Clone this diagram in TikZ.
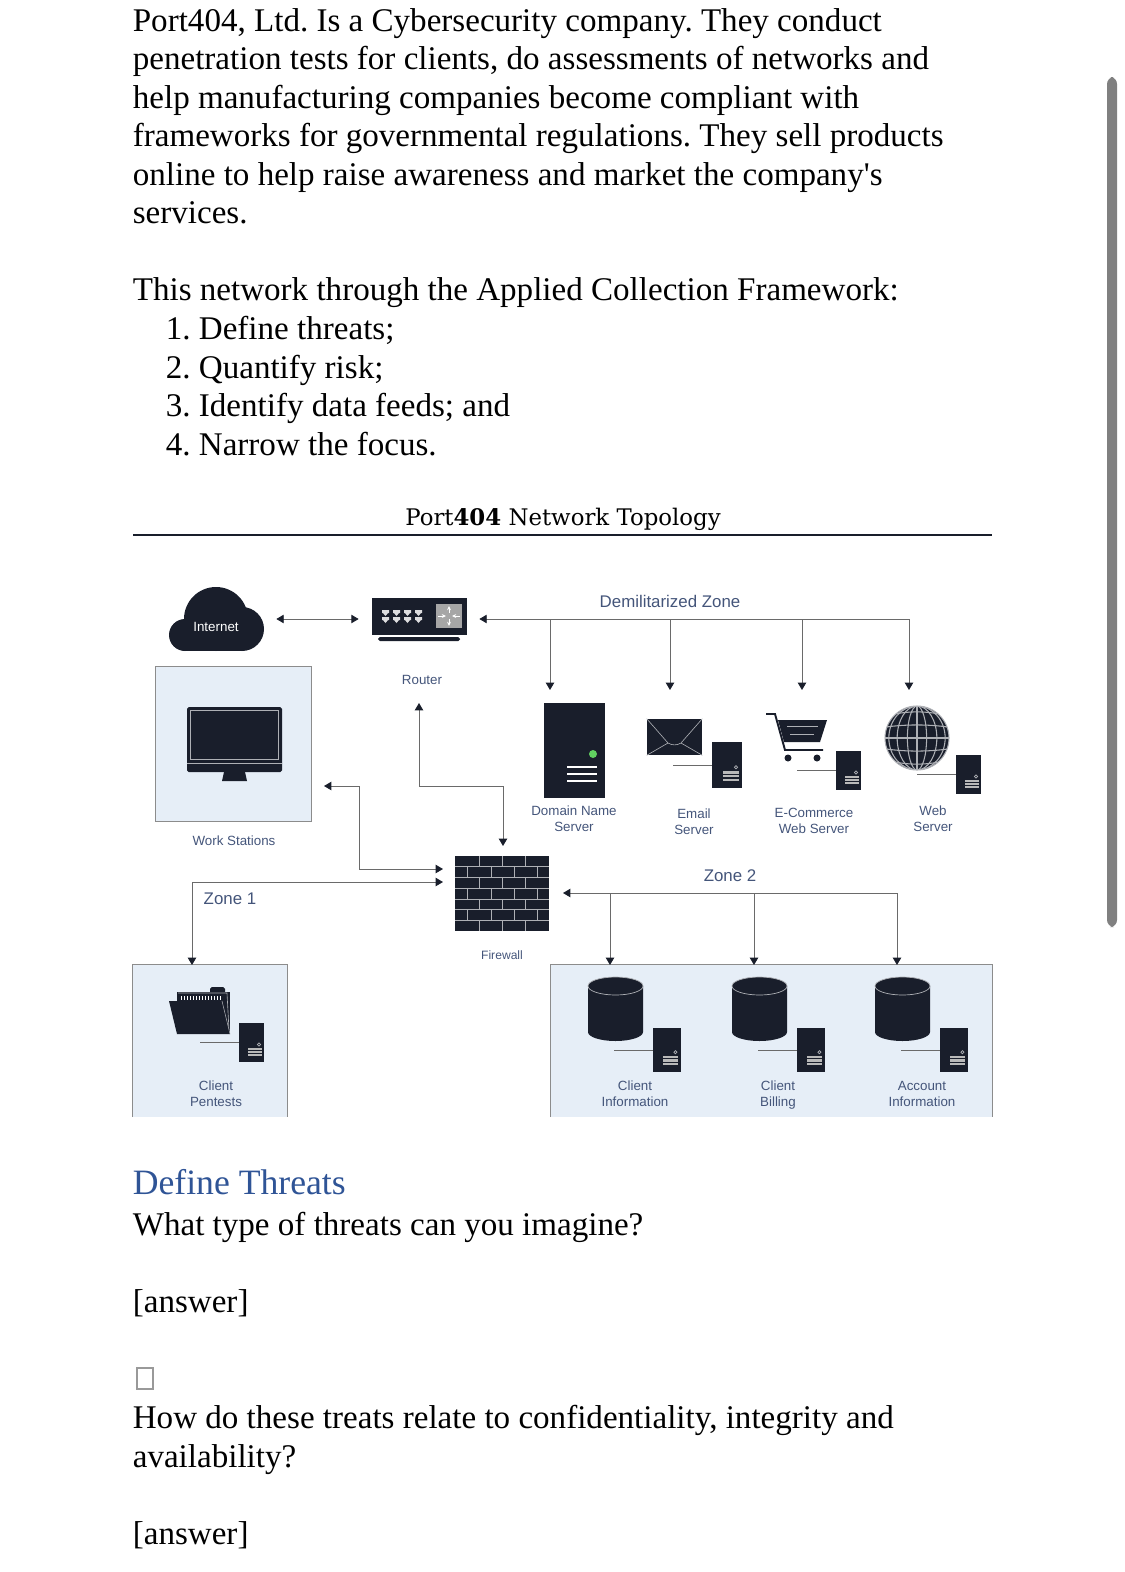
\documentclass[tikz,border=0pt]{standalone}
\usepackage{fontspec}
\usepackage{xcolor}
\usepackage{tikz}
\usetikzlibrary{arrows.meta, positioning, calc}
\setmainfont{Liberation Serif}
\setsansfont{Liberation Sans}
\newfontfamily\slabfont{DejaVu Serif}
\definecolor{ink}{HTML}{191E2B}
\definecolor{panel}{HTML}{E6EEF7}
\definecolor{labelblue}{HTML}{44557A}
\definecolor{wire}{HTML}{6A6A6A}
\definecolor{headblue}{HTML}{2F5496}
\newcommand{\pxu}{0.02cm}
\newcommand{\bodysize}{\fontsize{18.82}{21.9}\selectfont\frenchspacing}
% small tower with a stem: name, x, y, width, height, stem length
\newcommand{\miniserver}[6]{
    \node[icon, minimum width=#4*\pxu, minimum height=#5*\pxu] (#1) at (#2,#3) {};
    \draw[stem] (#1.west) -- ++(-#6,0);
    \begin{scope}[shift={(#1.center)}]
        \draw[bright, line width=0.4pt] ({0.3*#4},{0.05*#5}) circle (1.6);
        \foreach \r in {0.16,0.24,0.32}
            \draw[draw=gray!55, line width=1.3pt] ({-0.14*#4},{\r*#5}) -- ({0.4*#4},{\r*#5});
    \end{scope}
}
% cylinder with its server
\newcommand{\dbstack}[2]{
    \fill[ink] (#2-27.5,986) -- (#2-27.5,1032) arc[start angle=180, end angle=0,
        x radius=27.5, y radius=9] -- (#2+27.5,986) -- cycle;
    \draw[bright, fill=ink, line width=0.4pt] (#2,986) ellipse (27.5 and 9);
    \node[minimum width=55*\pxu, minimum height=64*\pxu, inner sep=0pt] (#1) at (#2,1009) {};
    \miniserver{#1srv}{#2+51.5}{1050}{28}{44}{39}
}

\begin{document}
\begin{tikzpicture}[
    x=\pxu, y=-\pxu,
    every node/.style={inner sep=0pt},
    para/.style={anchor=north west, align=left, font=\bodysize},
    lbl/.style={align=center, text=labelblue, font=\sffamily\fontsize{7.6}{9.2}\selectfont},
    zonelbl/.style={text=labelblue, font=\sffamily\fontsize{9.6}{11}\selectfont},
    icon/.style={rectangle, fill=ink},
    area/.style={draw=gray!90, fill=panel, line width=0.5pt},
    stem/.style={draw=wire, line width=0.5pt},
    bright/.style={draw=white!65!ink, line width=0.35pt},
    arrow/.style={draw=wire, line width=0.55pt,
                  -{Triangle[length=4.2pt, width=4.8pt, color=ink]}},
    biarrow/.style={draw=wire, line width=0.55pt,
                  {Triangle[length=4.2pt, width=4.8pt, color=ink]}-{Triangle[length=4.2pt, width=4.8pt, color=ink]}}
]
\useasboundingbox (0,0) rectangle (1125,1572);

% Top text
\node[para] (intro) at (132.5,8) {Port404, Ltd. Is a Cybersecurity company. They conduct\\
    penetration tests for clients, do assessments of networks and\\
    help manufacturing companies become compliant with\\
    frameworks for governmental regulations. They sell products\\
    online to help raise awareness and market the company\textquotesingle s\\
    services.};
\node[para] (acf) at (132.5,277) {This network through the Applied Collection Framework:};
\node[para] (steps) at (165.5,316) {1. Define threats;\\2. Quantify risk;\\3. Identify data feeds; and\\4. Narrow the focus.};
\node[icon, fill=gray, rounded corners=4pt, minimum width=10*\pxu, minimum height=850*\pxu]
    (scrollbar) at (1112,502) {};

% Title
\node[font=\slabfont\fontsize{13}{16}\selectfont] (title) at (563,519)
    {Port\textbf{404} Network Topology};
\draw[ink, line width=1.4pt] (133,535) coordinate (rulea) -- (992,535) coordinate (ruleb);

% Panels
\node[area, minimum width=156*\pxu, minimum height=155*\pxu] (workarea) at (233.5,743.5) {};
\fill[panel] (132,964) rectangle (287,1117);
\draw[area, fill=none] (132,1117) -- (132,964) -- (287,964) -- (287,1117);
\fill[panel] (550,964) rectangle (992,1117);
\draw[area, fill=none] (550,1117) -- (550,964) -- (992,964) -- (992,1117);

% Internet
\fill[ink] (185,635) circle (16);
\fill[ink] (216,619) circle (32);
\fill[ink] (242,629) circle (22);
\fill[ink] (185,625) rectangle (242,651);
\node[minimum width=96*\pxu, minimum height=64*\pxu] (internet) at (216,619) {};
\node[text=white, font=\sffamily\fontsize{7.6}{9}\selectfont] (inetlbl) at (216,627) {Internet};

% Router
\node[icon, minimum width=95*\pxu, minimum height=43*\pxu, fill=none] (router) at (419.5,619) {};
\fill[ink] (372,598) rectangle (467,635);
\fill[ink, rounded corners=1pt] (378,637) rectangle (460,641);
\foreach \x in {382,393,404,415}
    \foreach \y in {610,617}
        \fill[white!85!ink] (\x,\y) rectangle ++(7,3) (\x+1,\y+3) -- ++(5,0) -- ++(-2.5,3) -- cycle;
\fill[gray!70] (436,604) rectangle (462,628);
\draw[white, line width=0.4pt, -{Stealth[length=2.4pt, width=2.2pt]}] (449,613) -- (449,606);
\draw[white, line width=0.4pt, -{Stealth[length=2.4pt, width=2.2pt]}] (449,619) -- (449,626);
\draw[white, line width=0.4pt, -{Stealth[length=2.4pt, width=2.2pt]}] (438,616) -- (446,616);
\draw[white, line width=0.4pt, -{Stealth[length=2.4pt, width=2.2pt]}] (460,616) -- (452,616);
\node[lbl] (routerlbl) at (422,680) {Router};

% Work station
\node[icon, minimum width=95*\pxu, minimum height=65*\pxu, rounded corners=1pt] (monitor) at (234.5,739.5) {};
\draw[bright] (190,710) rectangle (278,759);
\draw[bright] (187,763) -- (282,763);
\fill[ink] (224,772) -- (245,772) -- (247,781) -- (222,781) -- cycle;
\node[lbl] (worklbl) at (234,841) {Work Stations};

% Firewall
\node[icon, minimum width=94*\pxu, minimum height=75*\pxu] (firewall) at (502,893.5) {};
\foreach \r in {1,...,6}
    \draw[bright] (455,{856+\r*10.7}) -- (549,{856+\r*10.7});
\foreach \r in {0,2,4,6} \foreach \x in {479,502,525}
    \draw[bright] (\x,{856+\r*10.7}) -- (\x,{856+(\r+1)*10.7});
\foreach \r in {1,3,5} \foreach \x in {467,491,514,537}
    \draw[bright] (\x,{856+\r*10.7}) -- (\x,{856+(\r+1)*10.7});
\node[lbl, font=\sffamily\fontsize{6.9}{8}\selectfont] (firelbl) at (502,955) {Firewall};

% Demilitarized zone
\node[zonelbl] (dmzlbl) at (670,601) {Demilitarized Zone};
\node[icon, minimum width=61*\pxu, minimum height=95*\pxu] (dns) at (574.5,750.5) {};
\fill[green!55!gray!80!white] (593,754) circle (4);
\foreach \y in {767,774,781} \draw[white, line width=0.7pt] (567,\y) -- (597,\y);
\node[lbl] (dnslbl) at (574,819) {Domain Name\\Server};

\node[icon, minimum width=55*\pxu, minimum height=36*\pxu] (mail) at (674.5,737) {};
\draw[bright] (mail.north west) -- (668,743) to[out=-30, in=210] (681,743) -- (mail.north east)
    (mail.south west) -- (668,743) (mail.south east) -- (681,743);
\miniserver{mailsrv}{727}{765}{30}{46}{39}
\node[lbl] (maillbl) at (694,822) {Email\\Server};

\draw[ink, line width=1.1pt] (766,714) -- (775,714) -- (785,750) -- (823,750);
\fill[ink] (778,720) -- (827,720) -- (820,742) -- (784,742) -- cycle;
\draw[bright] (787,726) -- (818,726) (790,734) -- (814,734);
\fill[ink] (788,758) circle (3.5);
\fill[ink] (817,758) circle (3.5);
\node[minimum width=61*\pxu, minimum height=48*\pxu] (cart) at (796,738) {};
\miniserver{cartsrv}{848.5}{770.5}{25}{39}{39}
\node[lbl] (cartlbl) at (814,821) {E-Commerce\\Web Server};

\node[circle, fill=ink, minimum size=64*\pxu] (globe) at (917,738) {};
\begin{scope}
    \clip (917,738) circle (32);
    \foreach \k in {0.3,0.62,0.88} \draw[bright, line width=0.6pt] (917,738) ellipse ({32*\k} and 32);
    \draw[bright, line width=0.6pt] (917,706) -- (917,770);
    \foreach \d in {-24,-12,0,12,24}
        \draw[bright, line width=0.6pt] (885,{738+\d*0.9}) .. controls (905,{738+\d*1.15}) and (929,{738+\d*1.15}) .. (949,{738+\d*0.9});
\end{scope}
\draw[bright, line width=0.6pt] (917,738) circle (32);
\miniserver{websrv}{968.5}{774.5}{25}{39}{39}
\node[lbl] (weblbl) at (933,819) {Web\\Server};

% Folder and client pentests
\node[minimum width=61*\pxu, minimum height=47*\pxu] (folder) at (199.5,1010.5) {};
\fill[ink, rounded corners=1pt] (210,987) rectangle (225,995);
\fill[ink] (177,992) rectangle (230,1034);
\draw[bright] (178,993) -- (227,993) -- (229,1030);
\draw[white, line width=1.8pt, dash pattern=on 0.7pt off 1pt] (181,998) -- (222,998);
\fill[ink] (169,1001) -- (222,1001) -- (230,1034) -- (177,1034) -- cycle;
\draw[bright, line width=0.3pt] (222,1001) -- (230,1034);
\miniserver{foldersrv}{251.5}{1042.5}{25}{39}{39}
\node[lbl] (pentestlbl) at (216,1094) {Client\\Pentests};

% Zone 2 stores
\node[zonelbl] (zonetwolbl) at (730,876) {Zone 2};
\dbstack{infodb}{615.5}
\dbstack{billdb}{759.5}
\dbstack{acctdb}{902.5}
\node[lbl] (infolbl) at (635,1094) {Client\\Information};
\node[lbl] (billlbl) at (778,1095) {Client\\Billing};
\node[lbl] (acctlbl) at (922,1094) {Account\\Information};
\node[zonelbl] (zoneonelbl) at (230,899) {Zone 1};

% Connectors
\draw[biarrow, shorten <=12*\pxu, shorten >=13*\pxu] (internet) -- (router);
\coordinate (dmzend) at (909,619);
\draw[arrow, shorten >=12*\pxu] (dmzend) -- (router.east);
\foreach \x/\n in {550/dns,670/mail,802/cart,909/web} {
    \coordinate (\n bus) at (\x,619);
    \coordinate (\n tip) at (\x,690);
    \draw[arrow] (\n bus) -- (\n tip);
}
\coordinate (fwup) at (419,703);
\coordinate (fwdown) at (503,846);
\draw[biarrow] (fwup) |- (503,786) -- (fwdown);
\coordinate (worktip) at (324,786);
\coordinate (fwworktip) at (443,869);
\draw[biarrow] (worktip) -| (359,869) -- (fwworktip);
\coordinate (fwclienttip) at (443,882);
\coordinate (clienttip) at (192,965);
\draw[biarrow] (fwclienttip) -| (clienttip);
\coordinate (zonetwoend) at (897,893);
\coordinate (zonetwotip) at (563,893);
\draw[arrow] (zonetwoend) -- (zonetwotip);
\foreach \x/\n in {610/info,754/bill,897/acct} {
    \coordinate (\n bus) at (\x,893);
    \coordinate (\n tip) at (\x,965);
    \draw[arrow] (\n bus) -- (\n tip);
}

% Bottom text
\node[para, text=headblue, font=\fontsize{20.3}{24}\selectfont] (threats) at (132.5,1169) {Define Threats};
\node[para] (imagine) at (132.5,1212) {What type of threats can you imagine?};
\node[para] (answera) at (132.5,1289) {[answer]};
\node[draw=gray!80, line width=0.6pt, minimum width=16*\pxu, minimum height=21*\pxu] (tickbox) at (145,1378.5) {};
\node[para] (relate) at (132.5,1405) {How do these treats relate to confidentiality, integrity and\\availability?};
\node[para] (answerb) at (132.5,1521) {[answer]};
\end{tikzpicture}
\end{document}
